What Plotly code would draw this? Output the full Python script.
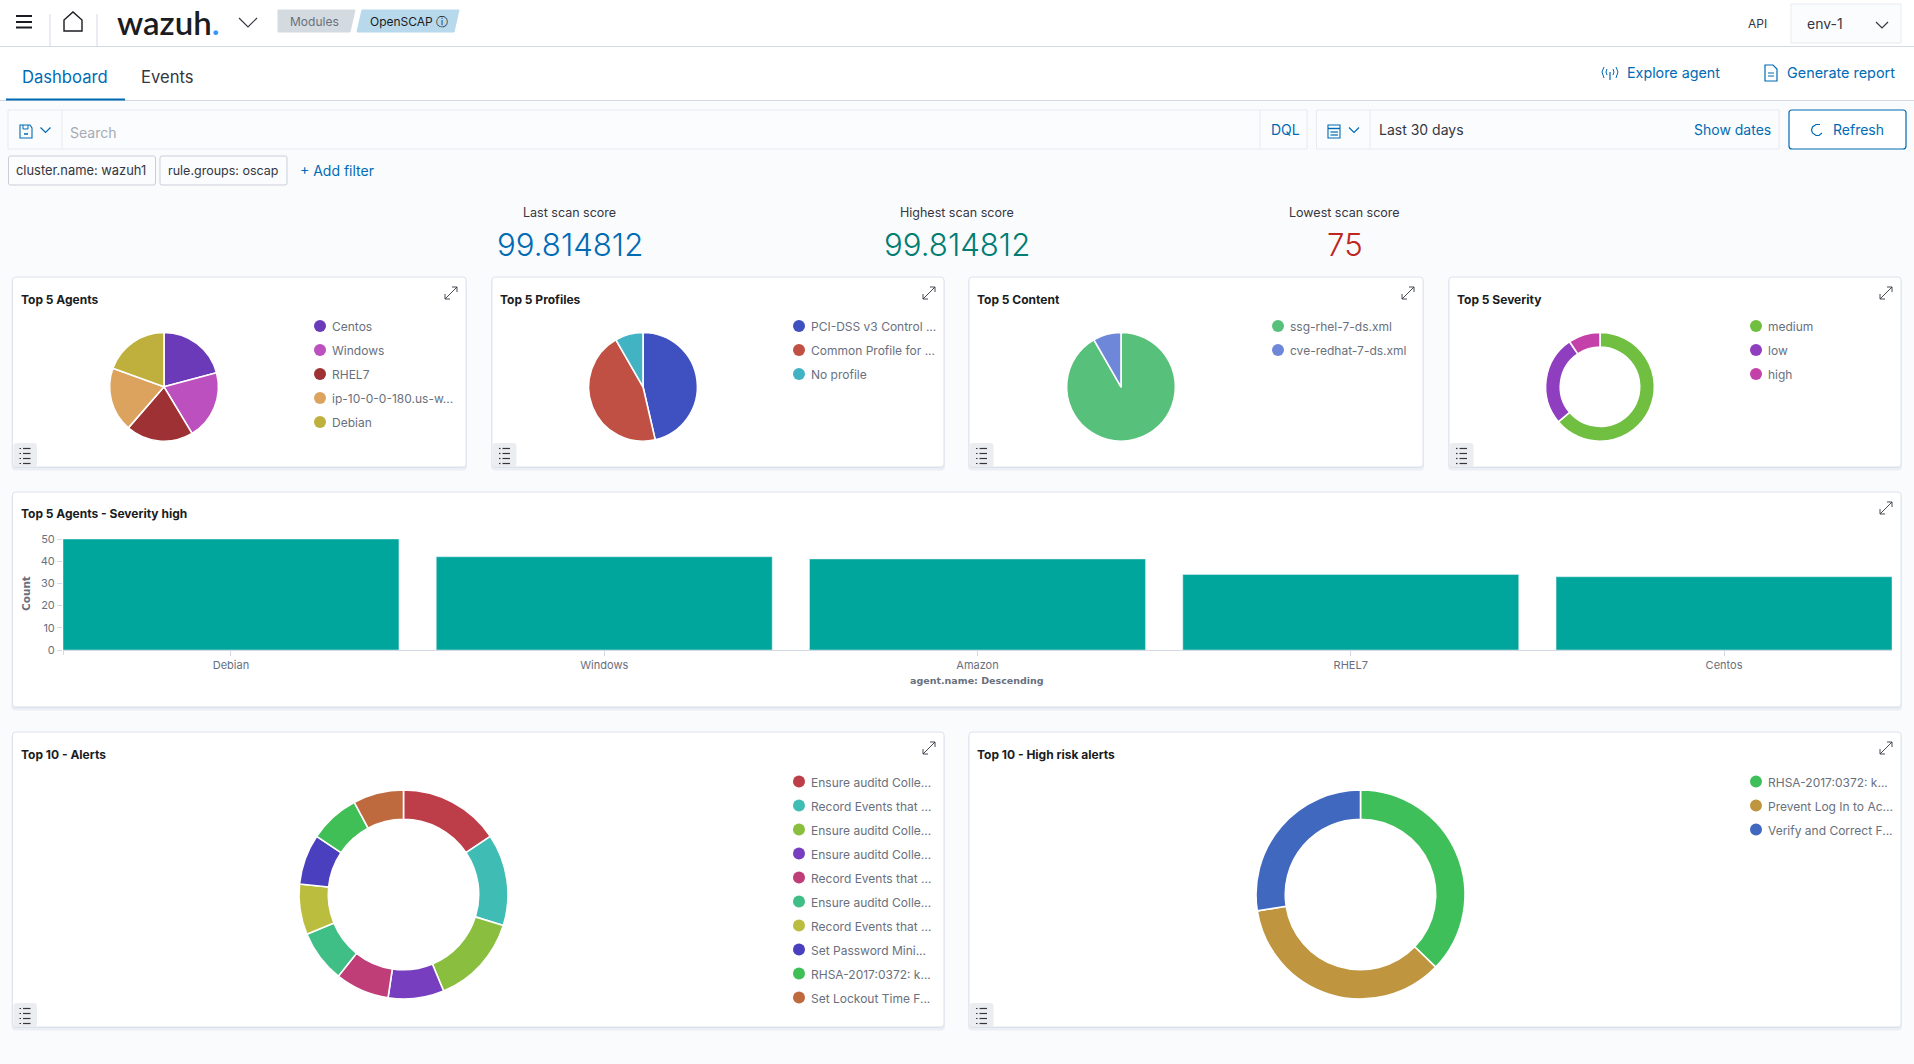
import pandas as pd
import plotly
import plotly.express as px

WIDTH = 1914
HEIGHT = 1064
FONT = 'Inter'
BLUE = '#006BB4'
INK = '#343741'
SOFT = '#69707D'
EDGE = '#D3DAE6'

agent_labels = ['Centos', 'Windows', 'RHEL7', 'ip-10-0-0-180.us-w...', 'Debian']
agent_values = [75, 74, 72, 69, 70]
agent_colors = ['#6A3AB8', '#BC50BE', '#9E3133', '#DCA35F', '#BFB03D']

profile_labels = ['PCI-DSS v3 Control ...', 'Common Profile for ...', 'No profile']
profile_values = [167, 163, 30]
profile_colors = ['#3F51C0', '#BF5043', '#42B3C3']

content_labels = ['ssg-rhel-7-ds.xml', 'cve-redhat-7-ds.xml']
content_values = [330, 30]
content_colors = ['#57C17B', '#6F87D8']

severity_labels = ['medium', 'low', 'high']
severity_values = [230, 96, 34]
severity_colors = ['#70BF40', '#8F3EBF', '#C441A9']

agents_high = ['Debian', 'Windows', 'Amazon', 'RHEL7', 'Centos']
agents_high_count = [50, 42, 41, 34, 33]
count_ticks = [0, 10, 20, 30, 40, 50]

alert_labels = ['Ensure auditd Colle...', 'Record Events that ...', 'Ensure auditd Colle...',
                'Ensure auditd Colle...', 'Record Events that ...', 'Ensure auditd Colle...',
                'Record Events that ...', 'Set Password Mini...', 'RHSA-2017:0372: k...',
                'Set Lockout Time F...']
alert_values = [56, 51, 50, 31, 30, 29, 28, 28, 28, 28]
alert_colors = ['#BD3E48', '#3FBDB5', '#89BE3F', '#773FBF', '#BF3E78',
                '#3FBF85', '#BABD3E', '#4A3FBF', '#3FBF55', '#BF693F']

risk_labels = ['RHSA-2017:0372: k...', 'Prevent Log In to Ac...', 'Verify and Correct F...']
risk_values = [134, 127, 99]
risk_colors = ['#3FBF59', '#BF963F', '#4068BF']


def fx(x):
    return x / WIDTH


def fy(y):
    return 1 - y / HEIGHT


def trace_path(points, closed=False):
    path = 'M ' + ' L '.join(f'{fx(x):.5f} {fy(y):.5f}' for x, y in points)
    return path + ' Z' if closed else path


def round_path(x0, y0, x1, y1, r):
    corners = [((x0 + r, y0), (x1 - r, y0), (x1, y0), (x1, y0 + r)),
               ((x1, y0 + r), (x1, y1 - r), (x1, y1), (x1 - r, y1)),
               ((x1 - r, y1), (x0 + r, y1), (x0, y1), (x0, y1 - r)),
               ((x0, y1 - r), (x0, y0 + r), (x0, y0), (x0 + r, y0))]
    path = f'M {fx(x0 + r):.5f} {fy(y0):.5f}'
    for _, line_end, bend, arc_end in corners:
        path += f' L {fx(line_end[0]):.5f} {fy(line_end[1]):.5f}'
        path += f' Q {fx(bend[0]):.5f} {fy(bend[1]):.5f} {fx(arc_end[0]):.5f} {fy(arc_end[1]):.5f}'
    return path + ' Z'


def add_text(fig, x, y, text, size=13, color=INK, anchor='left', weight=400, family=FONT, angle=0):
    fig.add_annotation(
        x=fx(x), y=fy(y), xref='paper', yref='paper', text=text, showarrow=False,
        xanchor=anchor, yanchor='middle', textangle=angle, borderpad=0, borderwidth=0,
        font=dict(family=family, size=size, color=color, weight=weight))


def add_box(fig, x0, y0, x1, y1, fill='white', line=None, width=1, radius=0):
    border = dict(color=line, width=width) if line else dict(width=0)
    if radius:
        fig.add_shape(
            type='path', xref='paper', yref='paper', layer='below',
            path=round_path(x0, y0, x1, y1, radius), fillcolor=fill, line=border)
    else:
        fig.add_shape(
            type='rect', xref='paper', yref='paper', layer='below',
            x0=fx(x0), x1=fx(x1), y0=fy(y0), y1=fy(y1), fillcolor=fill, line=border)


def add_line(fig, points, color=INK, width=1.2, closed=False, fill=None):
    fig.add_shape(
        type='path', xref='paper', yref='paper', layer='below',
        path=trace_path(points, closed), fillcolor=fill,
        line=dict(color=color, width=width))


def add_chevron(fig, x, y, half=5, drop=5, color=INK):
    add_line(fig, [(x - half, y - drop / 2), (x, y + drop / 2), (x + half, y - drop / 2)], color)


def add_card(fig, x0, y0, x1, y1, title):
    add_box(fig, x0 - 1, y0 + 2, x1 + 1, y1 + 3.5, fill='#EBEEF4', radius=4)
    add_box(fig, x0, y0, x1, y1 + 1, fill='#DCE1EA', radius=4)
    add_box(fig, x0, y0, x1, y1, line='#DDE2EC', radius=3)
    add_text(fig, x0 + 8, y0 + 22, title, size=12, color='#1A1C21', weight=700)
    # expand icon
    ex, ey = x1 - 15, y0 + 16
    add_line(fig, [(ex - 6, ey + 6), (ex + 6, ey - 6)], '#343741', 0.9)
    add_line(fig, [(ex + 1, ey - 6), (ex + 6, ey - 6), (ex + 6, ey - 1)], '#343741', 0.9)
    add_line(fig, [(ex - 6, ey + 1), (ex - 6, ey + 6), (ex - 1, ey + 6)], '#343741', 0.9)


def add_list_toggle(fig, x0, y1):
    add_box(fig, x0 + 1, y1 - 24, x0 + 24.5, y1, fill='#EBEDF0', radius=3)
    for row in [-6, -1, 4, 9]:
        add_line(fig, [(x0 + 7, y1 - 12.5 + row), (x0 + 8.5, y1 - 12.5 + row)], '#343741', 1.2)
        add_line(fig, [(x0 + 10.5, y1 - 12.5 + row), (x0 + 18, y1 - 12.5 + row)], '#343741', 1.2)


def add_legend(fig, x, y, labels, colors):
    for row, (label, color) in enumerate(zip(labels, colors)):
        cy = y + row * 24
        fig.add_shape(
            type='circle', xref='paper', yref='paper', layer='below',
            x0=fx(x - 6), x1=fx(x + 6), y0=fy(cy - 6), y1=fy(cy + 6),
            fillcolor=color, line=dict(width=0))
        add_text(fig, x + 12, cy + 0.5, label, size=12, color=SOFT)


def create_pie(labels, values, colors, center, radius, hole=0) -> plotly.graph_objs._figure.Figure:
    frame = pd.DataFrame({'label': range(len(labels)), 'value': values})
    pie = px.pie(frame, names='label', values='value', hole=hole)
    pie.update_traces(
        sort=False, direction='clockwise', rotation=0, textinfo='none', showlegend=False,
        marker=dict(colors=colors, line=dict(color='white', width=1.6)),
        domain=dict(x=[fx(center[0] - radius), fx(center[0] + radius)],
                    y=[fy(center[1] + radius), fy(center[1] - radius)]))
    return pie


def create_bar() -> plotly.graph_objs._figure.Figure:
    frame = pd.DataFrame({'agent': agents_high, 'count': agents_high_count})
    fig = px.bar(frame, x='agent', y='count', color_discrete_sequence=['#00A69B'])
    fig.update_traces(width=0.9)
    fig.update_xaxes(
        domain=[fx(63), fx(1892)], range=[-0.45, 4.45], automargin=False, title=None, showgrid=False,
        showline=True, linecolor=EDGE, ticks='outside', ticklen=5, tickcolor=EDGE,
        tickfont=dict(family=FONT, size=11, color=SOFT))
    fig.update_yaxes(
        domain=[fy(650), fy(539)], range=[0, 50], automargin=False, title=None, showgrid=False,
        zeroline=False, tickvals=count_ticks, ticks='outside', ticklen=5, tickcolor=EDGE,
        showline=False, tickfont=dict(family=FONT, size=11, color=SOFT))
    return fig


def add_top_bars(fig):
    # nav bar and tab strip
    add_box(fig, 0, 0, WIDTH, 100)
    add_line(fig, [(0, 46.5), (WIDTH, 46.5)], EDGE, 1)
    add_line(fig, [(0, 100.5), (WIDTH, 100.5)], EDGE, 1)
    add_line(fig, [(6, 99.5), (125, 99.5)], BLUE, 2)
    add_line(fig, [(50, 14), (50, 46)], EDGE, 1)
    add_line(fig, [(97, 14), (97, 46)], EDGE, 1)
    for row in [16, 22, 27.5]:
        add_line(fig, [(16, row), (32, row)], '#1A1C21', 2)
    add_line(fig, [(64, 31), (64, 20), (73, 12), (82, 20), (82, 31)], '#1A1C21', 1.4, closed=True)
    add_text(fig, 117, 22, 'wazuh<span style="color:#3595F9">.</span>', size=33, color='#1A1C21',
             weight=600, family='Lato')
    add_chevron(fig, 248, 22.5, 9, 9)
    add_line(fig, [(278, 10), (355, 10), (350, 32), (278, 32)], '#D3DAE0', 1, closed=True, fill='#D3DAE0')
    add_line(fig, [(362, 10), (459, 10), (454, 32), (357, 32)], '#B8D8EC', 1, closed=True, fill='#B8D8EC')
    add_text(fig, 314, 21, 'Modules', size=12, color=SOFT, anchor='center')
    add_text(fig, 370, 21, 'OpenSCAP ⓘ', size=12, color='#1A1C21')
    add_text(fig, 1757, 24, 'API', size=12, anchor='center')
    add_box(fig, 1791, 4, 1901, 43, fill='#FBFCFD', line='#E6EAF1')
    add_text(fig, 1807, 24, 'env-1', size=14)
    add_chevron(fig, 1882, 25, 6, 6)

    add_text(fig, 22, 77, 'Dashboard', size=16.6, color=BLUE)
    add_text(fig, 141, 77, 'Events', size=16.6)
    add_text(fig, 1627, 73, 'Explore agent', size=14.3, color=BLUE)
    add_text(fig, 1787, 72.5, 'Generate report', size=14.4, color=BLUE)
    add_line(fig, [(1610, 72), (1610, 80)], BLUE, 1.2)
    add_line(fig, [(1604, 67), (1602, 72), (1604, 78)], BLUE, 1)
    add_line(fig, [(1616, 67), (1618, 72), (1616, 78)], BLUE, 1)
    add_line(fig, [(1607, 69), (1606, 72), (1607, 75)], BLUE, 1)
    add_line(fig, [(1613, 69), (1614, 72), (1613, 75)], BLUE, 1)
    add_line(fig, [(1765, 65), (1773, 65), (1777, 69), (1777, 81), (1765, 81)], BLUE, 1.2, closed=True)
    add_line(fig, [(1768, 73), (1774, 73)], BLUE, 1)
    add_line(fig, [(1768, 76), (1774, 76)], BLUE, 1)


def add_query_bar(fig):
    add_box(fig, 8, 110, 1307, 149, fill='#FBFCFD', line='#E6EAF1')
    add_line(fig, [(62, 110), (62, 149)], '#E6EAF1', 1)
    add_line(fig, [(1260, 110), (1260, 149)], '#E6EAF1', 1)
    add_line(fig, [(20, 125), (30, 125), (32, 128), (32, 138), (20, 138)], BLUE, 1.1, closed=True)
    add_line(fig, [(23, 125), (23, 129), (28, 129), (28, 125)], BLUE, 1)
    add_line(fig, [(24, 134), (28, 134)], BLUE, 1.5)
    add_chevron(fig, 45.5, 130, 5, 5, BLUE)
    add_text(fig, 70, 132, 'Search', size=14, color='#A5ABB5')
    add_text(fig, 1285, 130, 'DQL', size=14, color=BLUE, anchor='center')

    add_box(fig, 1316.5, 110, 1779, 149, fill='#FBFCFD', line='#E6EAF1')
    add_line(fig, [(1370, 110), (1370, 149)], '#E6EAF1', 1)
    add_line(fig, [(1328, 125), (1340, 125), (1340, 138), (1328, 138)], BLUE, 1.1, closed=True)
    add_line(fig, [(1328, 128.5), (1340, 128.5)], BLUE, 1.4)
    add_line(fig, [(1330.5, 132), (1338, 132)], BLUE, 1.2)
    add_line(fig, [(1330.5, 135), (1338, 135)], BLUE, 1.2)
    add_chevron(fig, 1354, 130, 5, 5, BLUE)
    add_text(fig, 1379, 130, 'Last 30 days', size=14)
    add_text(fig, 1771, 130, 'Show dates', size=14, color=BLUE, anchor='right')
    add_box(fig, 1789, 110, 1906, 149, line=BLUE, width=1.2, radius=3)
    add_line(fig, [(1820, 124.5), (1816, 124.5), (1812.5, 127), (1811.5, 130), (1812.5, 133), (1816, 135.5), (1819, 135.5), (1822, 133)], BLUE, 1.2)
    add_text(fig, 1833, 130, 'Refresh', size=14, color=BLUE)

    add_box(fig, 8.5, 156, 155.5, 185, fill='#FBFCFD', line='#C9CFDA', radius=2)
    add_box(fig, 160, 156, 287, 185, fill='#FBFCFD', line='#C9CFDA', radius=2)
    add_text(fig, 81, 171, 'cluster.name: wazuh1', size=12.9, anchor='center')
    add_text(fig, 223.5, 171, 'rule.groups: oscap', size=12.5, anchor='center')
    add_text(fig, 300, 171, '+ Add filter', size=14, color=BLUE)


def add_metrics(fig):
    add_text(fig, 569.5, 212.5, 'Last scan score', size=12.5, anchor='center')
    add_text(fig, 957, 212.5, 'Highest scan score', size=12.5, anchor='center')
    add_text(fig, 1344.5, 212.5, 'Lowest scan score', size=12.5, anchor='center')
    add_text(fig, 569.5, 245, '99.814812', size=31.2, color=BLUE, anchor='center', weight=300)
    add_text(fig, 957, 245, '99.814812', size=31.2, color='#017D73', anchor='center', weight=300)
    add_text(fig, 1344.5, 245, '75', size=31.2, color='#BD271E', anchor='center', weight=300)


def create_dashboard() -> plotly.graph_objs._figure.Figure:
    fig = create_bar()
    pies = [
        create_pie(agent_labels, agent_values, agent_colors, (164, 386.8), 54.4),
        create_pie(profile_labels, profile_values, profile_colors, (643, 386.8), 54.4),
        create_pie(content_labels, content_values, content_colors, (1121, 386.8), 54.4),
        create_pie(severity_labels, severity_values, severity_colors, (1600, 386.8), 54.4, 0.73),
        create_pie(alert_labels, alert_values, alert_colors, (403.5, 894.5), 104.5, 0.72),
        create_pie(risk_labels, risk_values, risk_colors, (1360.5, 894.5), 104.5, 0.72),
    ]
    for pie in pies:
        fig.add_traces(pie.data)

    add_top_bars(fig)
    add_query_bar(fig)
    add_metrics(fig)

    add_card(fig, 12.5, 277, 466, 467, 'Top 5 Agents')
    add_card(fig, 492, 277, 944, 467, 'Top 5 Profiles')
    add_card(fig, 969, 277, 1423, 467, 'Top 5 Content')
    add_card(fig, 1449, 277, 1901, 467, 'Top 5 Severity')
    add_card(fig, 12.5, 492, 1901, 707, 'Top 5 Agents - Severity high')
    add_card(fig, 12.5, 732, 944, 1027, 'Top 10 - Alerts')
    add_card(fig, 969, 732, 1901, 1027, 'Top 10 - High risk alerts')
    for x0, y1 in [(12.5, 467), (492, 467), (969, 467), (1449, 467), (12.5, 1027), (969, 1027)]:
        add_list_toggle(fig, x0, y1)

    add_legend(fig, 320, 326, agent_labels, agent_colors)
    add_legend(fig, 799, 326, profile_labels, profile_colors)
    add_legend(fig, 1278, 326, content_labels, content_colors)
    add_legend(fig, 1756, 326, severity_labels, severity_colors)
    add_legend(fig, 799, 781.5, alert_labels, alert_colors)
    add_legend(fig, 1756, 781.5, risk_labels, risk_colors)

    add_text(fig, 26, 594, 'Count', size=10.5, color=SOFT, anchor='center', weight=700, family='DejaVu Sans', angle=-90)
    add_text(fig, 977, 680, 'agent.name: Descending', size=9.5, color=SOFT, anchor='center', weight=700, family='DejaVu Sans')
    add_line(fig, [(63.5, 650), (63.5, 655)], EDGE, 1)

    fig.update_layout(
        width=WIDTH, height=HEIGHT, margin=dict(l=0, r=0, t=0, b=0, pad=0), autosize=False,
        paper_bgcolor='#FAFBFD', plot_bgcolor='rgba(0,0,0,0)', showlegend=False,
        font=dict(family=FONT))
    return fig


if __name__ == "__main__":
    fig = create_dashboard()
    fig.write_html("out.html", config={'displayModeBar': False},
                   post_script="document.body.style.margin='0';document.body.style.overflow='hidden';")
